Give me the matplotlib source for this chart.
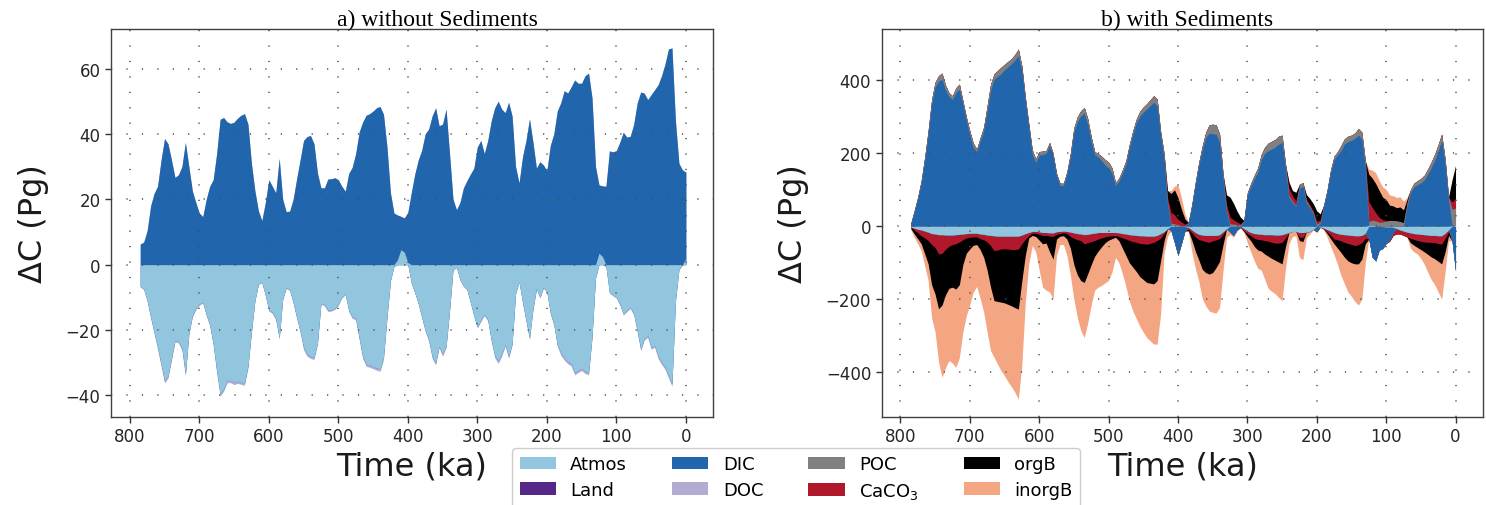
import numpy as np
import matplotlib
matplotlib.use("Agg")
import matplotlib.pyplot as plt
from matplotlib.patches import Patch

# time axis (ka before present), 5 ka spacing
age = np.arange(785, -1, -5)

# ---------------- panel a: without sediments (Pg C) ----------------
atmos_a = [
    -6.6, -7.4, -11, -16, -20.6, -25.2, -30.3, -35.5, -34, -28.5,
    -23.2, -23.5, -25.5, -33.4, -21, -15.6, -13.4, -12, -11.5, -15.2,
    -18.3, -24.2, -32.4, -39.5, -38, -35.4, -35.4, -36, -35.6, -35.9,
    -36.2, -31, -20.4, -11, -5.9, -5.3, -9.3, -13.8, -14.5, -16.5,
    -22.4, -10.5, -7, -7.7, -11.5, -16, -20.2, -25.3, -27.3, -28,
    -28.3, -24, -11.8, -12.2, -13.9, -13.8, -13.3, -12, -10, -9,
    -14, -16, -16.5, -22.4, -28, -30.4, -30.7, -31.1, -31.6, -31.9,
    -28.3, -16, -4.8, -0.5, 1.5, 4.6, 3.8, 0.7, -5.5, -8.5,
    -11.8, -16, -20, -23, -28, -30, -25, -27.3, -25, -14,
    -1.5, -0.8, -4.5, -6.5, -7.5, -11.5, -15.5, -19, -17, -15.2,
    -16.8, -23, -27.8, -29.5, -27.3, -24.5, -28, -24.2, -8.8, -5.2,
    -11.4, -17, -22.5, -13.5, -7.3, -10, -7, -8.2, -14.7, -18.1,
    -24.5, -27, -28.5, -29.6, -30.3, -33, -32.3, -31.7, -32.6, -33,
    -22, -4, 3.5, 2.5, -0.5, -8.5, -9.3, -10, -12, -15,
    -14, -13, -15, -20.2, -25.7, -22.7, -21.8, -25.2, -24.8, -28,
    -29.8, -31.3, -34, -36.5, -11, -1.5, 0, 2,
]
dic_a = [
    6.3, 6.9, 10.4, 18, 21.8, 24, 32, 38.6, 37, 32,
    26.7, 27.5, 30, 37.4, 30, 22.6, 19, 15.8, 14.7, 20,
    24, 26, 34, 44.5, 45, 43.7, 43.2, 43.6, 44.8, 45.7,
    46.2, 43, 31, 22.6, 16.5, 13.5, 19, 26, 24, 22,
    32.5, 20, 16.2, 16.4, 20, 26.2, 32, 38, 39.2, 39.5,
    37, 28, 23.5, 23.5, 26.2, 26.3, 26.6, 26, 24, 22.5,
    27.9, 29.8, 34, 40.6, 43.6, 45.7, 46.2, 47, 48, 48.4,
    46, 36, 22, 15.8, 13.7, 10.2, 10.5, 15.3, 22, 27.7,
    32, 35, 40, 41.5, 45.5, 48, 42.5, 43, 47.6, 34,
    20, 16.8, 19, 23.5, 25.7, 27.7, 29.5, 36, 38, 34,
    38, 44, 48, 50, 47.6, 46.5, 49.7, 45.5, 30, 25,
    33, 38, 44.6, 37.5, 29.5, 31.5, 30.5, 28.8, 36.5, 40,
    47, 49.5, 53.2, 52.5, 54.4, 56.5, 55.5, 55.5, 57.8, 58.6,
    51, 30, 20.9, 21.6, 24, 34.8, 34.5, 34.9, 37.5, 40.5,
    39, 39.3, 43, 49.5, 52.8, 52.5, 50.5, 52, 53.5, 55,
    57.8, 61.4, 66, 66.3, 44, 31, 29, 26.3,
]
doc_a = [
    -0.2, -0.2, -0.2, -0.4, -0.4, -0.7, -0.7, -0.7, -0.7, -0.7,
    -0.4, -0.4, -0.7, -0.7, -0.4, -0.4, -0.4, -0.4, -0.2, -0.4,
    -0.4, -0.4, -0.7, -0.7, -0.7, -0.7, -0.7, -0.7, -0.7, -0.7,
    -0.7, -0.7, -0.4, -0.2, -0.2, -0.2, -0.2, -0.4, -0.4, -0.4,
    -0.4, -0.2, -0.2, -0.2, -0.2, -0.4, -0.4, -0.7, -0.7, -0.7,
    -0.7, -0.4, -0.2, -0.4, -0.4, -0.4, -0.4, -0.4, -0.2, -0.2,
    -0.4, -0.4, -0.4, -0.4, -0.7, -0.7, -0.7, -0.7, -0.7, -0.7,
    -0.7, -0.4, -0.2, -0.1, 0, 0, 0, 0, -0.2, -0.2,
    -0.2, -0.4, -0.4, -0.4, -0.7, -0.7, -0.4, -0.7, -0.4, -0.4,
    -0.1, -0.1, -0.2, -0.2, -0.2, -0.2, -0.4, -0.4, -0.4, -0.4,
    -0.4, -0.4, -0.7, -0.7, -0.7, -0.4, -0.7, -0.4, -0.2, -0.2,
    -0.2, -0.4, -0.4, -0.4, -0.2, -0.2, -0.2, -0.2, -0.4, -0.4,
    -0.4, -0.7, -0.7, -0.7, -0.7, -0.7, -0.7, -0.7, -0.7, -0.7,
    -0.4, -0.2, 0, 0, -0.1, -0.2, -0.2, -0.2, -0.4, -0.4,
    -0.4, -0.4, -0.4, -0.4, -0.7, -0.4, -0.4, -0.7, -0.4, -0.7,
    -0.7, -0.7, -0.7, -0.7, -0.2, -0.1, 0, 0,
]

# ---------------- panel b: with sediments (Pg C) ----------------
atmos_b = [
    -2, -5, -8, -10, -13, -16, -20, -21, -23, -23,
    -24, -24, -24, -23, -22, -21, -20, -19, -19, -19,
    -21, -22, -24, -25, -26, -27, -27, -27, -27, -27,
    -27, -27, -24, -20, -17, -14, -14, -15, -17, -17,
    -18, -18, -15, -14, -13, -14, -16, -18, -20, -21,
    -23, -22, -20, -19, -17, -17, -17, -17, -17, -17,
    -18, -20, -21, -23, -24, -25, -26, -26, -27, -27,
    -27, -25, -20, -15, -6, 2, 2, 1, 0, -1,
    -3, -10, -17, -22, -24, -25, -25, -25, -25, -23,
    -15, -7, 1, 1, 1, 0, -6, -13, -17, -20,
    -21, -22, -23, -23, -23, -24, -24, -23, -20, -17,
    -14, -14, -17, -17, -16, -14, -8, 0, -2, -5,
    -9, -13, -17, -20, -22, -23, -24, -25, -26, -26,
    -25, -19, 3, 3, 1, 0, -1, -2, -2, -3,
    -6, -10, -13, -16, -18, -20, -21, -22, -23, -24,
    -25, -25, -26, -26, -19, -10, 2, 2,
]
dic_b = [
    8, 41, 76, 119, 181, 252, 335, 382, 398, 403,
    374, 356, 348, 367, 376, 335, 290, 250, 216, 205,
    233, 262, 315, 372, 404, 411, 418, 429, 437, 446,
    456, 468, 428, 345, 272, 198, 175, 195, 197, 200,
    222, 192, 138, 112, 112, 143, 190, 258, 287, 303,
    310, 280, 232, 196, 190, 180, 168, 160, 145, 112,
    124, 146, 170, 215, 252, 284, 301, 313, 322, 331,
    340, 331, 250, 185, 60, -12, -45, -80, -48, -12,
    10, 57, 114, 167, 210, 244, 255, 254, 252, 230,
    130, 40, -16, -25, -10, -3, 15, 86, 110, 130,
    148, 183, 200, 207, 212, 217, 225, 230, 158, 79,
    65, 55, 105, 110, 65, 50, 35, -15, 8, 55,
    96, 148, 183, 195, 208, 226, 232, 236, 241, 250,
    240, 163, -35, -85, -95, -65, -60, -45, -35, -14,
    0, 0, 0, 55, 92, 108, 114, 119, 127, 143,
    161, 182, 206, 235, 170, 72, -40, -122,
]
poc_b = [
    0, 2, 4, 6, 8, 10, 12, 13, 15, 17,
    13, 10, 10, 13, 14, 10, 10, 12, 12, 7,
    10, 10, 15, 18, 14, 16, 18, 15, 15, 14,
    15, 18, 12, 10, 9, 12, 10, 10, 9, 8,
    8, 8, 7, 6, 6, 7, 10, 12, 13, 14,
    16, 15, 13, 9, 9, 12, 15, 16, 15, 8,
    8, 9, 10, 10, 10, 10, 14, 14, 14, 16,
    18, 18, 10, 15, 8, 6, 5, 3, 2, 1,
    1, 3, 6, 8, 10, 14, 23, 26, 26, 23,
    13, 5, 6, 5, 4, 3, 1, 6, 8, 10,
    12, 14, 17, 21, 21, 21, 22, 20, 12, 5,
    4, 3, 10, 10, 5, 4, 3, 6, 4, 3,
    4, 7, 9, 10, 14, 14, 15, 14, 15, 18,
    18, 17, 10, 14, 14, 11, 12, 14, 16, 16,
    15, 13, 10, 8, 8, 10, 11, 12, 13, 14,
    15, 16, 18, 18, 15, 8, 45, 48,
]
caco3_b = [
    -1, -5, -10, -16, -19, -23, -30, -37, -53, -51,
    -39, -31, -26, -25, -21, -16, -12, -11, -10, -10,
    -13, -15, -19, -28, -41, -38, -35, -35, -35, -37,
    -37, -35, -24, -16, -9, -5, -5, -7, -8, -8,
    -9, -10, -7, -6, -5, -6, -12, -15, -17, -18,
    -25, -23, -22, -20, -18, -15, -12, -10, -9, -9,
    -10, -12, -14, -16, -18, -19, -21, -22, -22, -20,
    -17, -14, -13, -5, 10, 30, 25, 15, 10, 5,
    -5, -8, -12, -14, -15, -17, -19, -15, -12, -11,
    -7, 15, 19, 12, 7, 4, -6, -7, -9, -13,
    -15, -15, -16, -18, -21, -22, -22, -21, -12, 20,
    15, 12, -13, -13, 5, 5, 4, 8, 6, -2,
    -6, -11, -18, -17, -18, -21, -23, -25, -27, -24,
    -20, -14, 55, 35, 22, 14, 6, 2, -4, -8,
    -15, -11, -12, -13, -15, -16, -18, -19, -20, -20,
    -19, -20, -21, -23, -14, -5, 20, 26,
]
orgb_b = [
    -3, -11, -16, -22, -43, -64, -110, -128, -150, -142,
    -125, -115, -117, -124, -117, -68, -42, -32, -23, -21,
    -30, -48, -77, -114, -137, -141, -146, -148, -152, -154,
    -159, -165, -102, -44, -6, -6, -9, -16, -23, -21,
    -43, -62, -13, -7, -8, -15, -32, -72, -96, -110,
    -106, -85, -63, -43, -33, -24, -16, -11, -8, -4,
    -12, -28, -45, -61, -70, -80, -91, -98, -105, -109,
    -114, -110, -62, -20, 20, 52, 68, 60, 35, 14,
    -4, -20, -39, -56, -79, -85, -87, -87, -76, -62,
    -28, 26, 54, 45, 30, 18, -2, -8, -14, -22,
    -29, -31, -37, -41, -44, -47, -52, -59, -23, 17,
    14, 23, -9, -12, 12, 17, 20, 28, 16, -1,
    -5, -10, -13, -23, -32, -41, -48, -50, -50, -53,
    -45, -15, 75, 80, 80, 73, 62, 57, 42, 40,
    36, 40, 35, 10, -12, -16, -19, -23, -27, -33,
    -40, -44, -49, -54, -37, -10, 60, 90,
]
inorgb_b = [
    -3, -9, -14, -19, -33, -46, -90, -104, -146, -198,
    -200, -198, -208, -215, -200, -185, -171, -153, -128, -115,
    -134, -150, -170, -174, -155, -172, -188, -200, -212, -222,
    -232, -247, -230, -130, -71, -28, -42, -82, -119, -129,
    -110, -110, -45, -23, -24, -45, -75, -95, -117, -137,
    -151, -135, -110, -93, -99, -106, -110, -110, -91, -55,
    -60, -70, -85, -105, -120, -129, -136, -144, -151, -158,
    -165, -174, -145, -35, -22, 8, 10, 35, 32, 14,
    -3, -32, -47, -58, -80, -91, -101, -109, -125, -126,
    -70, -23, -6, -5, -3, -2, -3, -17, -30, -40,
    -50, -52, -69, -88, -90, -92, -97, -101, -60, -31,
    -14, -12, -46, -50, -16, -7, -2, -2, -2, -1,
    -10, -21, -30, -45, -63, -73, -85, -92, -103, -113,
    -110, -52, 14, 22, 30, 27, 28, 28, 28, 28,
    28, 28, 24, 6, -15, -18, -18, -24, -34, -49,
    -62, -71, -84, -97, -55, -15, 0, 0,
]

names = ["Atmos", "Land", "DIC", "DOC", "POC", "CaCO$_3$", "orgB", "inorgB"]
colors = {
    "Atmos": "#92c5de", "Land": "#542788", "DIC": "#2166ac", "DOC": "#b2abd2",
    "POC": "#808080", "CaCO$_3$": "#b2182b", "orgB": "#000000", "inorgB": "#f4a582",
}


def draw_stack(ax, layers):
    """Stack positive parts upward and negative parts downward, in order."""
    pos = np.zeros(len(age))
    neg = np.zeros(len(age))
    tops = []
    for name, vals in layers:
        v = np.asarray(vals, dtype=float)
        pos = pos + np.clip(v, 0, None)
        neg = neg + np.clip(v, None, 0)
        tops.append((name, pos.copy(), neg.copy()))
    # paint outermost first so inner layers cover the seams
    for name, top, bot in reversed(tops):
        c = colors[name]
        ax.fill_between(age, 0, top, color=c, lw=0, zorder=1)
        ax.fill_between(age, bot, 0, color=c, lw=0, zorder=1)


def style_axes(ax, yticks, ylim):
    ax.set_xlim(827, -39)
    ax.set_ylim(*ylim)
    ax.set_xticks(np.arange(800, -1, -100))
    ax.set_yticks(yticks)
    ax.set_axisbelow(False)
    ax.grid(True, color="0.3", linestyle=(0, (0.8, 9.3)), linewidth=1.1)
    ax.tick_params(direction="out", length=4, width=1, color="0.2",
                   labelsize=12, labelcolor="0.15")
    for s in ax.spines.values():
        s.set_color("0.25")
        s.set_linewidth(1.0)
    ax.set_xlabel("Time (ka)", fontsize=23, labelpad=4, color="0.1")
    ax.set_ylabel("ΔC (Pg)", fontsize=23, labelpad=12, color="0.1")


fig = plt.figure(figsize=(14.86, 5.06), dpi=100)
ax_a = fig.add_axes([0.0747, 0.1739, 0.4051, 0.7668])
ax_b = fig.add_axes([0.5933, 0.1739, 0.4044, 0.7668])

draw_stack(ax_a, [("Atmos", atmos_a), ("DIC", dic_a), ("DOC", doc_a)])
draw_stack(ax_b, [("Atmos", atmos_b), ("DIC", dic_b), ("POC", poc_b),
                  ("CaCO$_3$", caco3_b), ("orgB", orgb_b), ("inorgB", inorgb_b)])

style_axes(ax_a, np.arange(-40, 61, 20), (-46.6, 72.1))
style_axes(ax_b, np.arange(-400, 401, 200), (-523, 541))

ax_a.text(0.543, 1.01, "a) without Sediments", transform=ax_a.transAxes,
          ha="center", va="baseline", fontsize=17, family="Liberation Serif")
ax_b.text(0.508, 1.01, "b) with Sediments", transform=ax_b.transAxes,
          ha="center", va="baseline", fontsize=17, family="Liberation Serif")

handles = [Patch(facecolor=colors[n], edgecolor="none") for n in names]
fig.legend(handles, names, loc="upper center", ncol=4,
           bbox_to_anchor=(796 / 1486, 1 - 449 / 506), borderaxespad=0,
           fontsize=13, labelspacing=0.42, frameon=True, fancybox=True,
           edgecolor="0.8", framealpha=1.0, columnspacing=2.5)

fig.savefig("out.png", dpi=100)
